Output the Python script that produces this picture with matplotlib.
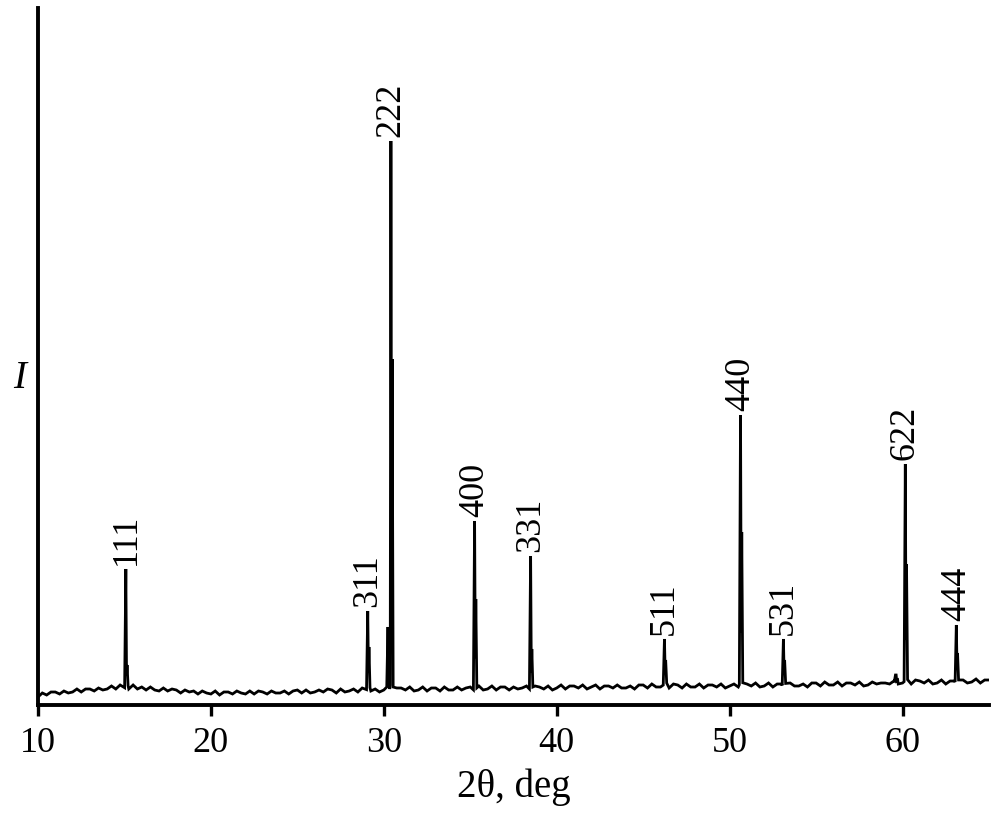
import numpy as np
import matplotlib
matplotlib.use("Agg")
import matplotlib.pyplot as plt

plt.rcParams['font.family'] = ['Liberation Serif', 'DejaVu Serif']

# baseline read every 0.25 deg from 10 to 65 (arbitrary intensity units)
base_start, base_step = 10.0, 0.25
baseline = [
    8, 12, 10, 13,  13, 11, 14, 12,  13, 16, 13, 16,  16, 14, 17, 15,
    16, 19, 16, 20,  18, 16, 20, 16,  18, 15, 18, 15,  14, 17, 14, 16,
    15, 12, 15, 13,  14, 11, 14, 12,  11, 14, 10, 13,  13, 11, 14, 12,
    11, 14, 11, 14,  13, 11, 14, 12,  12, 14, 11, 14,  15, 12, 15, 12,
    13, 15, 13, 16,  15, 12, 16, 13,  14, 16, 13, 17,  16, 14, 16, 13,
    15, 18, 15, 17,  17, 15, 18, 14,  15, 18, 14, 17,  17, 14, 18, 15,
    15, 18, 15, 17,  18, 15, 19, 15,  16, 19, 15, 18,  18, 15, 18, 16,
    17, 19, 16, 19,  18, 16, 19, 15,  17, 20, 16, 19,  19, 17, 20, 16,
    18, 20, 16, 19,  19, 17, 20, 17,  17, 19, 16, 20,  20, 17, 21, 18,
    18, 20, 17, 21,  20, 17, 21, 18,  18, 21, 17, 20,  20, 18, 21, 17,
    19, 21, 18, 22,  21, 19, 22, 18,  19, 22, 18, 21,  21, 18, 22, 19,
    19, 21, 18, 22,  22, 19, 23, 20,  20, 23, 19, 22,  22, 20, 23, 19,
    20, 23, 21, 22,  22, 21, 24, 21,  22, 24, 21, 25,  24, 22, 25, 21,
    22, 25, 21, 24,  24, 22, 25, 22,  23, 26, 22, 25,  25,
]

# peaks: position (deg), top height, K-alpha2 shoulder height, label
peak_pos = [15.09, 29.08, 30.25, 30.42, 35.26, 38.50, 46.24, 50.64, 53.12, 59.60, 60.17, 63.12]
peak_top = [136, 94, 78, 564, 184, 149, 66, 290, 66, 30, 241, 80]
peak_sh = [40, 58, 40, 346, 106, 56, 45, 173, 45, 24, 141, 52]
peak_lab = ['111', '311', '', '222', '400', '331', '511', '440', '531', '', '622', '444']

base_x = base_start + base_step * np.arange(len(baseline))
base_y = np.array(baseline, dtype=float)

# cut the baseline where peaks sit and put each peak profile in
keep = np.ones(len(base_x), bool)
px, py = [], []
for c, h, s in zip(peak_pos, peak_top, peak_sh):
    keep &= ~((base_x > c - 0.1) & (base_x < c + 0.14))
    f = np.interp(c, base_x, base_y)
    px += [c - 0.08, c - 0.01, c + 0.03, c + 0.06, c + 0.12]
    py += [f, h, f + 0.3 * s, s, f + 2]
x = np.concatenate([base_x[keep], px])
y = np.concatenate([base_y[keep], py])
order = np.argsort(x)
x, y = x[order], y[order]

fig = plt.figure(figsize=(10.06, 8.21), dpi=100)
ax = fig.add_axes([38 / 1006, 116 / 821, (989 - 38) / 1006, (705 - 8) / 821])
ax.plot(x, y, color='black', lw=2.0, solid_joinstyle='miter')

for c, h, lab in zip(peak_pos, peak_top, peak_lab):
    if lab:
        ax.text(c, h + 4, lab, rotation=90, ha='center', va='bottom', fontsize=26)

ax.set_xlim(10, 65)
ax.set_ylim(0, 697)
ax.set_xticks([10, 20, 30, 40, 50, 60])
ax.set_yticks([])
ax.tick_params(axis='x', direction='out', length=8, width=2.4, labelsize=26, pad=8)
for side in ['top', 'right']:
    ax.spines[side].set_visible(False)
for side in ['left', 'bottom']:
    ax.spines[side].set_linewidth(2.8)
ax.set_xlabel('2θ, deg', fontsize=28, labelpad=6)
fig.text(20 / 1006, 1 - 378 / 821, 'I', style='italic', fontsize=28, ha='center', va='center')

fig.savefig('out.png', dpi=100)
